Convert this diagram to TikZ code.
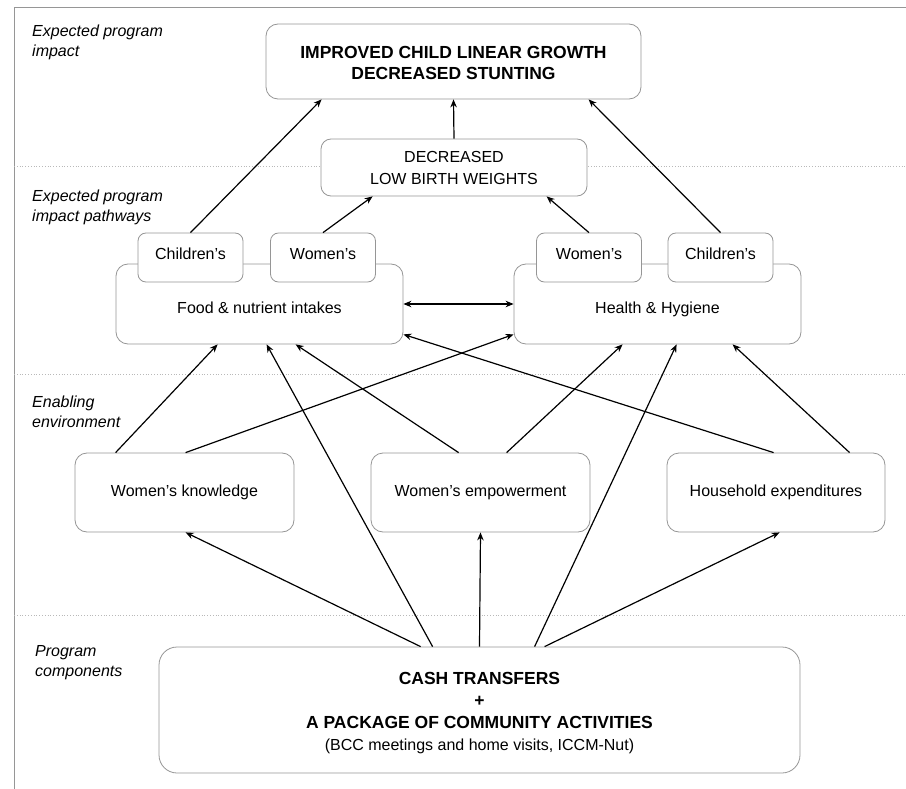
\documentclass[tikz,border=0pt]{standalone}
\usepackage{fontspec}
\setmainfont{Liberation Sans}
\usetikzlibrary{arrows.meta}
\definecolor{boxgray}{RGB}{150,150,150}
\definecolor{sepgray}{RGB}{185,185,185}
\begin{document}
\begin{tikzpicture}[x=1pt,y=-1pt,
 	box/.style={draw=boxgray, line width=0.8pt, rounded corners=12pt, fill=white, align=center, inner sep=0pt, font=\fontsize{16}{22}\selectfont},
 	tab/.style={box, rounded corners=8pt, minimum width=105pt, minimum height=49pt, text height=8pt, text depth=3.5pt},
 	bigbox/.style={box, font=\fontsize{17.5}{21.5}\selectfont\bfseries},
 	lab/.style={anchor=north west, align=left, inner sep=0pt, font=\fontsize{16}{20}\selectfont\itshape},
 	arr/.style={-{Stealth[length=8pt,width=6.5pt]}, line width=1.2pt},
 	sep/.style={draw=sepgray, dotted, line width=0.8pt}]
 	\useasboundingbox (0,0) rectangle (906,789);
 	% frame and bands
 	\draw [boxgray, line width=0.8pt] (906,7) -- (14,7) -- (14,789);
 	\draw [sep] (14,166) -- (906,166);
 	\draw [sep] (14,374) -- (906,374);
 	\draw [sep] (14,615) -- (906,615);
 	\node [lab] (labimpact) at (32,25) {Expected program\\impact};
 	\node [lab] (labpath) at (32,190) {Expected program\\impact pathways};
 	\node [lab] (labenv) at (32,396) {Enabling\\environment};
 	\node [lab] (labcomp) at (35,645) {Program\\components};
 	% boxes
 	\node [bigbox, minimum width=375pt, minimum height=75pt] (impact) at (453.5,61.5) {\rule{0pt}{15pt}IMPROVED CHILD LINEAR GROWTH\\DECREASED STUNTING};
 	\node [box, minimum width=266pt, minimum height=57pt, rounded corners=10pt] (lbw) at (454,167.5) {DECREASED\\LOW BIRTH WEIGHTS};
 	\node [box, minimum width=287pt, minimum height=80pt, text height=22pt, text depth=3.5pt] (food) at (259.5,304) {Food \& nutrient intakes};
 	\node [box, minimum width=287pt, minimum height=80pt, text height=22pt, text depth=3.5pt] (health) at (657.5,304) {Health \& Hygiene};
 	\node [tab] (lchild) at (190.5,257.5) {Children’s};
 	\node [tab] (lwomen) at (323,257.5) {Women’s};
 	\node [tab] (rwomen) at (589,257.5) {Women’s};
 	\node [tab] (rchild) at (720.5,257.5) {Children’s};
 	\node [box, minimum width=219pt, minimum height=79pt] (know) at (184.5,492.5) {Women’s knowledge};
 	\node [box, minimum width=219pt, minimum height=79pt] (empower) at (480.5,492.5) {Women’s empowerment};
 	\node [box, minimum width=218pt, minimum height=79pt] (hhexp) at (776,492.5) {Household expenditures};
 	\node [box, minimum width=641pt, minimum height=126pt, rounded corners=18pt] (cash) at (479.5,710) {\fontsize{17.5}{22.5}\selectfont\bfseries\rule{0pt}{18.5pt}CASH TRANSFERS\\\fontsize{17.5}{22.5}\selectfont\bfseries +\\\fontsize{17.5}{22.5}\selectfont\bfseries A PACKAGE OF COMMUNITY ACTIVITIES\\(BCC meetings and home visits, ICCM-Nut)};
 	% impact arrows
 	\draw [arr] (lbw.north) -- (impact.south);
 	\draw [arr] (lchild.north) -- ([xshift=56pt]impact.south west);
 	\draw [arr] (rchild.north) -- ([xshift=323pt]impact.south west);
 	\draw [arr] (lwomen.north) -- ([xshift=52pt]lbw.south west);
 	\draw [arr] (rwomen.north) -- ([xshift=226pt]lbw.south west);
 	\draw [{Stealth[length=8pt,width=6.5pt]}-{Stealth[length=8pt,width=6.5pt]}, line width=1.2pt] (food.east) -- (health.west);
 	% enabling environment to pathways
 	\draw [arr] ([xshift=41pt]know.north west) -- ([xshift=102pt]food.south west);
 	\draw [arr] ([xshift=111pt]know.north west) -- ([yshift=10pt]health.south west);
 	\draw [arr] ([xshift=88pt]empower.north west) -- ([xshift=180pt]food.south west);
 	\draw [arr] ([xshift=136pt]empower.north west) -- ([xshift=109pt]health.south west);
 	\draw [arr] ([xshift=107pt]hhexp.north west) -- ([yshift=10pt]food.south east);
 	\draw [arr] ([xshift=183pt]hhexp.north west) -- ([xshift=219pt]health.south west);
 	% program components
 	\draw [arr] ([xshift=262pt]cash.north west) -- ([xshift=111pt]know.south west);
 	\draw [arr] ([xshift=274pt]cash.north west) -- ([xshift=151pt]food.south west);
 	\draw [arr] (cash.north) -- (empower.south);
 	\draw [arr] ([xshift=376pt]cash.north west) -- ([xshift=163pt]health.south west);
 	\draw [arr] ([xshift=386pt]cash.north west) -- ([xshift=113pt]hhexp.south west);
\end{tikzpicture}
\end{document}
